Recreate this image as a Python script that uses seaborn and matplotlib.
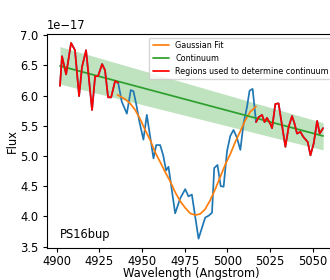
import numpy as np
import pandas as pd
import matplotlib
matplotlib.use("Agg")
import matplotlib.pyplot as plt
import seaborn as sns

# ---- data (flux in units of 1e-17) ----
wave = [4901.9, 4903.1, 4905.5, 4908.4, 4910.7, 4913.1, 4914.8, 4917.2, 4920.7,
        4922.5, 4924.2, 4926.6, 4928.3, 4930.1, 4931.9, 4934.2, 4936.0,
        4938.1, 4941.1, 4943.4, 4945.0, 4946.7, 4948.5, 4950.8, 4952.8, 4956.7,
        4958.3, 4960.6, 4962.4, 4964.1, 4965.5, 4969.4, 4972.4, 4975.3, 4977.2,
        4979.2, 4983.1, 4987.0, 4989.0, 4991.0, 4992.3, 4994.2, 4996.1, 4997.8,
        4999.8, 5001.7, 5003.6, 5005.5, 5007.6, 5009.5, 5011.5, 5013.0, 5014.8,
        5016.8, 5018.3, 5020.3, 5021.8, 5023.2, 5025.2, 5026.2, 5028.1, 5030.0,
        5032.0, 5034.0, 5035.9, 5037.9, 5039.3, 5040.8, 5042.8, 5044.4, 5047.1,
        5048.7, 5050.6, 5052.6, 5054.1, 5056.1]
flux = [6.16, 6.65, 6.35, 6.87, 6.75, 5.99, 6.47, 6.75, 5.76,
        6.32, 6.32, 6.52, 6.42, 5.97, 5.97, 6.24, 6.21,
        5.90, 5.70, 6.09, 6.07, 5.84, 5.56, 5.27, 5.68, 4.96,
        5.18, 5.18, 5.01, 4.76, 4.82, 4.05, 4.30, 4.45, 4.33,
        4.36, 3.63, 3.98, 4.01, 4.06, 4.80, 4.85, 4.50, 4.49,
        5.08, 5.33, 5.43, 5.31, 5.10, 5.54, 5.81, 6.08, 6.11,
        5.56, 5.64, 5.68, 5.56, 5.63, 5.53, 5.46, 5.86, 5.87,
        5.51, 5.15, 5.48, 5.66, 5.54, 5.37, 5.40, 5.32, 5.23,
        5.01, 5.21, 5.58, 5.37, 5.46]

fit_wave = [4935.6, 4940.1, 4943.0, 4946.0, 4948.9, 4951.8, 4954.8, 4957.7, 4960.6,
            4963.6, 4966.5, 4969.4, 4972.4, 4975.3, 4978.2, 4981.2, 4984.1, 4987.0,
            4990.0, 4992.9, 4995.8, 4998.8, 5001.7, 5004.6, 5007.6, 5010.5, 5013.4,
            5016.8]
fit_flux = [6.01, 5.94, 5.87, 5.76, 5.61, 5.43, 5.26, 5.06, 4.90,
            4.73, 4.58, 4.40, 4.25, 4.14, 4.05, 4.02, 4.04, 4.12,
            4.27, 4.45, 4.65, 4.86, 5.03, 5.23, 5.41, 5.59, 5.73,
            5.82]

cont_wave = [4901.9, 5056.1]
cont_flux = [6.49, 5.33]
cont_upper = [6.81, 5.55]
cont_lower = [6.19, 5.10]

regions = [(4900.0, 4936.5), (5016.5, 5060.0)]
scale = 1e-17
label_text = "PS16bup"

# ---- plot ----
sns.set_style("ticks")
fs = 8.3
plt.rcParams.update({
    "font.family": ["DejaVu Sans"],
    "font.size": fs,
    "axes.labelsize": fs,
    "xtick.labelsize": fs,
    "ytick.labelsize": fs,
    "legend.fontsize": 5.8,
    "axes.edgecolor": "black",
    "text.color": "black",
    "axes.labelcolor": "black",
    "xtick.color": "black",
    "ytick.color": "black",
    "axes.linewidth": 0.8,
    "xtick.major.size": 3.0,
    "ytick.major.size": 3.0,
    "xtick.major.pad": 2.0,
    "ytick.major.pad": 3.0,
})

fig = plt.figure(figsize=(3.3, 2.8), dpi=100)
ax = fig.add_axes([0.1424, 0.113, 0.876, 0.767])

w = np.array(wave)
f = np.array(flux) * scale
lw = 1.25

sns.lineplot(x=w, y=f, ax=ax, color="#1f77b4", lw=lw, estimator=None, sort=False)
sns.lineplot(x=np.array(fit_wave), y=np.array(fit_flux) * scale, ax=ax,
             color="#ff7f0e", lw=lw, estimator=None, sort=False, label="Gaussian Fit")
sns.lineplot(x=np.array(cont_wave), y=np.array(cont_flux) * scale, ax=ax,
             color="#2ca02c", lw=lw, estimator=None, sort=False, label="Continuum")
ax.fill_between(cont_wave, np.array(cont_lower) * scale, np.array(cont_upper) * scale,
                color="#2ca02c", alpha=0.3, lw=0)
for i, (lo, hi) in enumerate(regions):
    m = (w >= lo) & (w <= hi)
    sns.lineplot(x=w[m], y=f[m], ax=ax, color="red", lw=lw, estimator=None, sort=False,
                 label="Regions used to determine continuum" if i == 0 else None)

ax.set_xlim(4894.3, 5063.7)
ax.set_ylim(3.47e-17, 7.025e-17)
ax.set_xticks([4900, 4925, 4950, 4975, 5000, 5025, 5050])
ax.set_xlabel("Wavelength (Angstrom)", labelpad=-1)
ax.set_ylabel("Flux", labelpad=1)
ax.text(0.045, 0.035, label_text, transform=ax.transAxes, fontsize=fs, va="bottom")
ax.legend(loc="upper right")

fig.savefig("out.png", dpi=100)
